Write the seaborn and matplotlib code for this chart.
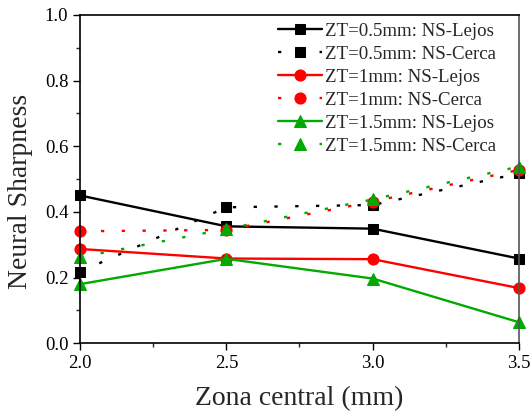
import matplotlib
matplotlib.use("Agg")
import matplotlib.pyplot as plt
import seaborn as sns
import pandas as pd
from matplotlib.ticker import MultipleLocator

x_vals = [2.0, 2.5, 3.0, 3.5]
lejos_05 = [0.450, 0.356, 0.349, 0.258]
cerca_05 = [0.218, 0.414, 0.421, 0.517]
lejos_1 = [0.287, 0.258, 0.256, 0.168]
cerca_1 = [0.341, 0.345, 0.431, 0.528]
lejos_15 = [0.180, 0.257, 0.197, 0.064]
cerca_15 = [0.262, 0.348, 0.438, 0.538]

labels = ["ZT=0.5mm: NS-Lejos", "ZT=0.5mm: NS-Cerca",
          "ZT=1mm: NS-Lejos", "ZT=1mm: NS-Cerca",
          "ZT=1.5mm: NS-Lejos", "ZT=1.5mm: NS-Cerca"]
series = [lejos_05, cerca_05, lejos_1, cerca_1, lejos_15, cerca_15]
colors = ["#000000", "#000000", "#ff0000", "#ff0000", "#00aa00", "#00aa00"]
markers = ["s", "s", "o", "o", "^", "^"]
dotted = (0, (1.4, 7.4))
styles = ["-", dotted, "-", dotted, "-", dotted]

sns.set_style("ticks")
plt.rcParams["font.family"] = ["Liberation Serif", "DejaVu Serif"]

fig = plt.figure(figsize=(5.31, 4.15), dpi=100)
ax = fig.add_axes([0.151, 0.173, 0.826, 0.791])

for lab, vals, c, m, ls in zip(labels, series, colors, markers, styles):
    df = pd.DataFrame({"x": x_vals, "y": vals})
    sns.lineplot(data=df, x="x", y="y", ax=ax, color=c, marker=m,
                 linestyle=ls, linewidth=1.7, markersize=8 if m != "s" else 7,
                 markeredgecolor=c, label=lab, clip_on=False)

ax.set_xlim(2.0, 3.5)
ax.set_ylim(0.0, 1.0)
ax.xaxis.set_major_locator(MultipleLocator(0.5))
ax.xaxis.set_minor_locator(MultipleLocator(0.25))
ax.yaxis.set_major_locator(MultipleLocator(0.2))
ax.yaxis.set_minor_locator(MultipleLocator(0.1))
ax.set_xticklabels([f"{v:.1f}" for v in ax.get_xticks()])
ax.set_yticklabels([f"{v:.1f}" for v in ax.get_yticks()])
ax.tick_params(axis="both", which="major", direction="out", length=5, width=1, labelsize=13.5, colors="black")
ax.tick_params(axis="both", which="minor", direction="out", length=3, width=1)
ax.tick_params(top=False, right=False, which="both")
for s in ax.spines.values():
    s.set_visible(True)
    s.set_linewidth(1.2)
    s.set_color("black")
ax.spines["right"].set_color("#555555")

ax.set_xlabel("Zona central (mm)", fontsize=20, labelpad=10)
ax.set_ylabel("Neural Sharpness", fontsize=20)
ax.yaxis.set_label_coords(-0.107, 0.463)

leg = ax.legend(loc="upper right", frameon=False, fontsize=13.6, handlelength=2.35,
                handletextpad=0.15, labelspacing=0.31, borderaxespad=0.0,
                bbox_to_anchor=(0.965, 1.0))

fig.savefig("out.png", dpi=100)
